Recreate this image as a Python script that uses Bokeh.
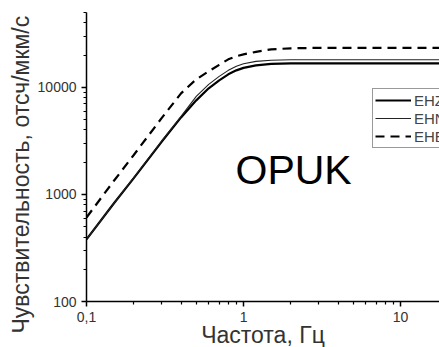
import math
from bokeh.plotting import figure
from bokeh.models import FixedTicker, CustomJSTickFormatter, Label, Legend, LegendItem, Range1d, Title
from bokeh.embed import file_html
from bokeh.resources import INLINE

# Data
freq = [0.1, 0.15, 0.2, 0.3, 0.4, 0.5, 0.6, 0.7, 0.8, 0.9, 1.0, 1.2, 1.5, 2, 3, 5, 10, 18]
ehz = [380, 831, 1420, 3075, 5240, 7560, 9790, 11630, 13230, 14410, 15210, 16060, 16590, 16760, 16760, 16760, 16760, 16760]
ehn = [380, 831, 1440, 3140, 5350, 8240, 10670, 12670, 14410, 15720, 16590, 17480, 17880, 18080, 18080, 18080, 18080, 18080]
ehe = [609, 1349, 2335, 5130, 8790, 11880, 14110, 16230, 18270, 19490, 20340, 21470, 22660, 23150, 23400, 23400, 23400, 23400]

x_major = [0.1, 1, 10]
x_minor = [0.2, 0.3, 0.4, 0.5, 0.6, 0.7, 0.8, 0.9, 2, 3, 4, 5, 6, 7, 8, 9, 20]
y_major = [100, 1000, 10000]
y_minor = [200, 300, 400, 500, 600, 700, 800, 900,
           2000, 3000, 4000, 5000, 6000, 7000, 8000, 9000,
           20000, 30000, 40000, 50000]

x_title = "Частота, Гц"
y_title = "Чувствительность, отсч/мкм/с"
station = "OPUK"
series_names = ["EHZ", "EHN", "EHE"]

FONT = "Liberation Sans"

p = figure(output_backend="svg", toolbar_location=None,
           x_axis_type="log", y_axis_type="log",
           frame_width=353, frame_height=289,
           min_border_left=86, min_border_right=0, min_border_top=12, min_border_bottom=46,
           x_range=Range1d(0.1, 17.7), y_range=Range1d(100, 50000))
p.outline_line_color = None
p.xgrid.visible = False
p.ygrid.visible = False
p.background_fill_color = "white"
p.border_fill_color = "white"

r1 = p.line(freq, ehz, line_color="black", line_width=2.2)
r2 = p.line(freq, ehn, line_color="#222222", line_width=1.1)
r3 = p.line(freq, ehe, line_color="black", line_width=2.2, line_dash="9 6")

for ax, major, minor in ((p.xaxis[0], x_major, x_minor), (p.yaxis[0], y_major, y_minor)):
    ax.ticker = FixedTicker(ticks=major, minor_ticks=minor)
    ax.axis_line_color = "black"
    ax.axis_line_width = 1.5
    ax.major_tick_line_color = "black"
    ax.major_tick_line_width = 1.5
    ax.minor_tick_line_color = "black"
    ax.minor_tick_line_width = 1.2
    ax.major_tick_in = 0
    ax.major_tick_out = 5
    ax.minor_tick_in = 0
    ax.minor_tick_out = 3
    ax.major_label_text_font = FONT
    ax.major_label_text_font_size = "14px"
    ax.major_label_text_color = "#333333"
    ax.major_label_standoff = 5
    ax.formatter = CustomJSTickFormatter(code="return String(tick).replace('.', ',');")

xa = p.xaxis[0]
xa.axis_label = x_title
xa.axis_label_standoff = -3
xa.axis_label_text_font = FONT
xa.axis_label_text_font_size = "23px"
xa.axis_label_text_font_style = "normal"
xa.axis_label_text_color = "#333333"

# Y title as a side title, starting below the frame bottom like in the reference
p.add_layout(Title(text=y_title, align="left", offset=-32, standoff=2,
                   text_font=FONT, text_font_size="23px", text_font_style="normal",
                   text_color="#333333"), "left")

# Station name
p.add_layout(Label(x=149, y=132, x_units="screen", y_units="screen", text=station,
                   text_align="left", text_baseline="alphabetic",
                   text_font=FONT, text_font_size="41px", text_color="black"))

legend = Legend(items=[LegendItem(label=series_names[0], renderers=[r1]),
                       LegendItem(label=series_names[1], renderers=[r2]),
                       LegendItem(label=series_names[2], renderers=[r3])],
                location=(286, 153), padding=2, margin=0, spacing=0,
                glyph_width=36, glyph_height=18, label_height=18, label_standoff=3,
                label_text_font=FONT, label_text_font_size="15px",
                border_line_color="#333333", border_line_width=1,
                background_fill_alpha=1.0)
p.add_layout(legend, "center")

open("out.html", "w").write(file_html(p, INLINE))
